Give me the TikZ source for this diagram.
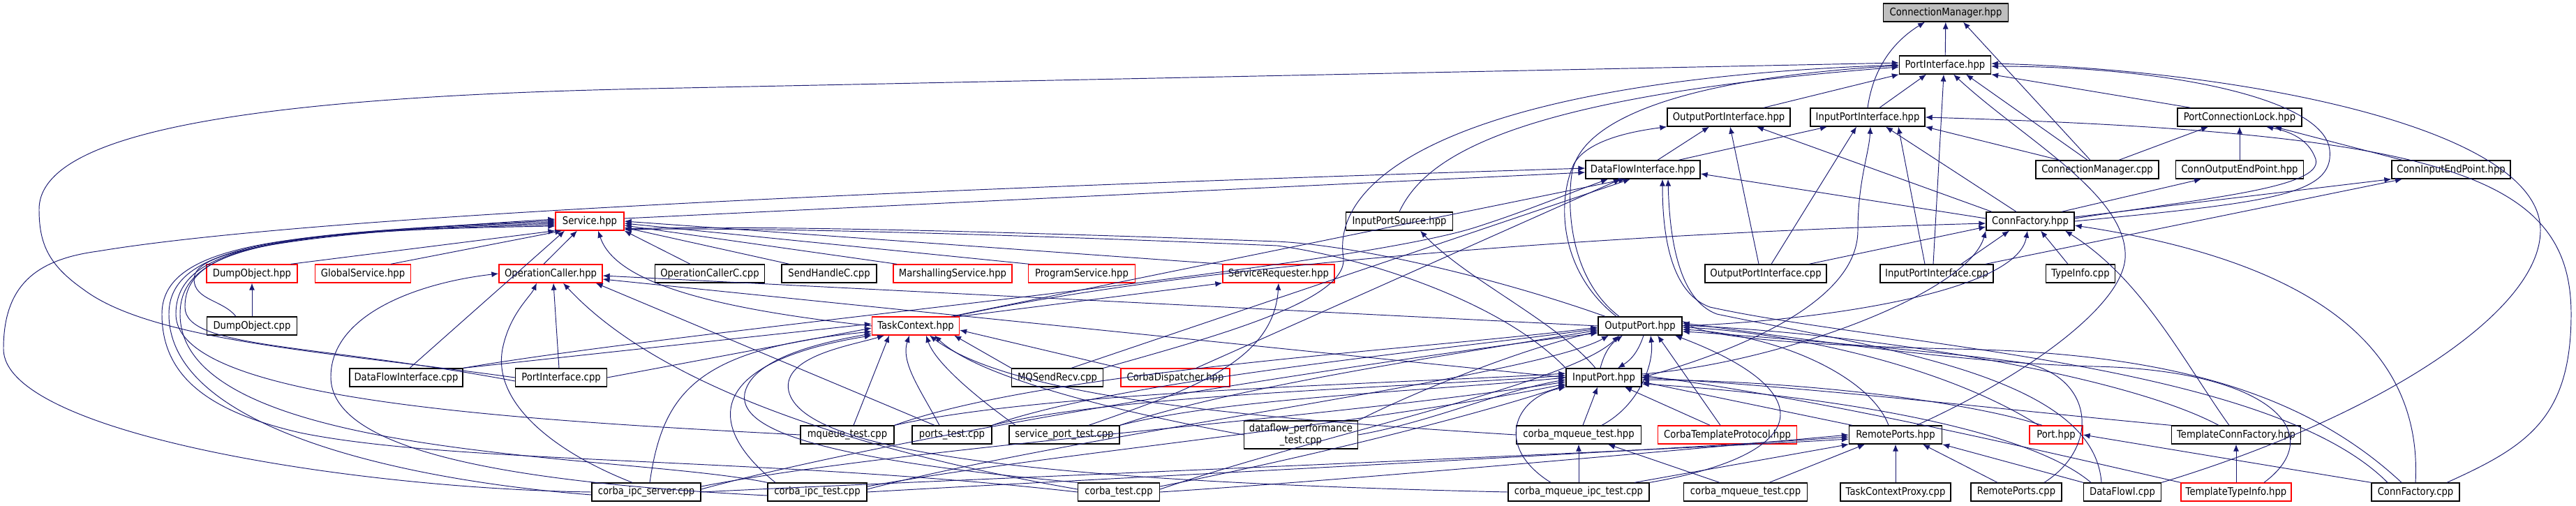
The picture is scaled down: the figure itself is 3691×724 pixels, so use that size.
\documentclass[tikz,border=0pt]{standalone}
\usepackage{fontspec}
\setmainfont{DejaVu Sans}[FakeStretch=0.88]
\usetikzlibrary{arrows.meta}
\definecolor{edgeblue}{HTML}{191970}
\definecolor{cutred}{HTML}{FF0000}
\begin{document}
\begin{tikzpicture}[x=1pt, y=1pt,
  file/.style={draw=black, fill=white, line width=1.3pt, minimum height=26, inner sep=0pt, font=\fontsize{15}{17}\selectfont},
  cut/.style={file, draw=cutred},
  root/.style={file, fill=black!25},
  inc/.style={draw=edgeblue, line width=0.95pt, -{Latex[length=10pt,width=8pt]}}]
\useasboundingbox (0,0) rectangle (3691,-724);

% rank 0-4
\node[root, minimum width=179] (CMh) at (2788,-18) {ConnectionManager.hpp};
\node[file, minimum width=131] (PIh) at (2787,-93) {PortInterface.hpp};
\node[file, minimum width=176] (OPIh) at (2477,-168) {OutputPortInterface.hpp};
\node[file, minimum width=164] (IPIh) at (2676,-168) {InputPortInterface.hpp};
\node[file, minimum width=178] (PCLh) at (3209,-168) {PortConnectionLock.hpp};
\node[file, minimum width=164] (DFIh) at (2354,-243) {DataFlowInterface.hpp};
\node[file, minimum width=176] (CMc) at (3005,-243) {ConnectionManager.cpp};
\node[file, minimum width=183] (COEP) at (3209,-243) {ConnOutputEndPoint.hpp};
\node[file, minimum width=170] (CIEP) at (3512,-243) {ConnInputEndPoint.hpp};
\node[cut, minimum width=98] (Sh) at (845,-317) {Service.hpp};
\node[file, minimum width=153] (IPSh) at (2005,-317) {InputPortSource.hpp};
\node[file, minimum width=126] (CFh) at (2909,-317) {ConnFactory.hpp};
% rank 5-7
\node[cut, minimum width=130] (DOh) at (361,-392) {DumpObject.hpp};
\node[cut, minimum width=137] (GSh) at (520,-392) {GlobalService.hpp};
\node[cut, minimum width=148] (OCh) at (789,-392) {OperationCaller.hpp};
\node[file, minimum width=157] (OCCc) at (1017,-392) {OperationCallerC.cpp};
\node[file, minimum width=136] (SHCc) at (1188,-392) {SendHandleC.cpp};
\node[cut, minimum width=170] (MSh) at (1365,-392) {MarshallingService.hpp};
\node[cut, minimum width=153] (PSh) at (1550,-392) {ProgramService.hpp};
\node[cut, minimum width=160] (SRh) at (1832,-392) {ServiceRequester.hpp};
\node[file, minimum width=174] (OPIc) at (2530,-392) {OutputPortInterface.cpp};
\node[file, minimum width=162] (IPIc) at (2775,-392) {InputPortInterface.cpp};
\node[file, minimum width=99] (TIc) at (2981,-392) {TypeInfo.cpp};
\node[file, minimum width=129] (DOc) at (361,-467) {DumpObject.cpp};
\node[cut, minimum width=125] (TCh) at (1312,-467) {TaskContext.hpp};
\node[file, minimum width=120] (OPh) at (2350,-467) {OutputPort.hpp};
\node[file, minimum width=162] (DFIc) at (582,-541) {DataFlowInterface.cpp};
\node[file, minimum width=131] (PIc) at (804,-541) {PortInterface.cpp};
\node[file, minimum width=131] (MQSR) at (1515,-541) {MQSendRecv.cpp};
\node[cut, minimum width=156] (CDh) at (1684,-541) {CorbaDispatcher.hpp};
\node[file, minimum width=108] (IPh) at (2298,-541) {InputPort.hpp};
% rank 8-9
\node[file, minimum width=134] (mqt) at (1214,-623) {mqueue\_test.cpp};
\node[file, minimum width=114] (pt) at (1364,-623) {ports\_test.cpp};
\node[file, minimum width=158] (spt) at (1525,-623) {service\_port\_test.cpp};
\node[file, minimum width=163, minimum height=40, align=center] (dpt) at (1864,-623) {dataflow\_performance\\\_test.cpp};
\node[file, minimum width=179] (cmth) at (2262,-623) {corba\_mqueue\_test.hpp};
\node[cut, minimum width=199] (CTPh) at (2475,-623) {CorbaTemplateProtocol.hpp};
\node[file, minimum width=133] (RPh) at (2716,-623) {RemotePorts.hpp};
\node[cut, minimum width=76] (Ph) at (2946,-623) {Port.hpp};
\node[file, minimum width=185] (TCFh) at (3204,-623) {TemplateConnFactory.hpp};
\node[file, minimum width=156] (cis) at (926,-705) {corba\_ipc\_server.cpp};
\node[file, minimum width=142] (cit) at (1171,-705) {corba\_ipc\_test.cpp};
\node[file, minimum width=117] (ct) at (1603,-705) {corba\_test.cpp};
\node[file, minimum width=202] (cmit) at (2262,-705) {corba\_mqueue\_ipc\_test.cpp};
\node[file, minimum width=177] (cmtc) at (2501,-705) {corba\_mqueue\_test.cpp};
\node[file, minimum width=158] (TCPc) at (2716,-705) {TaskContextProxy.cpp};
\node[file, minimum width=130] (RPc) at (2889,-705) {RemotePorts.cpp};
\node[file, minimum width=111] (DFIIc) at (3041,-705) {DataFlowI.cpp};
\node[cut, minimum width=158] (TTIh) at (3204,-705) {TemplateTypeInfo.hpp};
\node[file, minimum width=126] (CFc) at (3461,-705) {ConnFactory.cpp};

% ConnectionManager.hpp
\draw[inc] (PIh) -- (CMh);
\draw[inc] (IPIh.north) .. controls (2685,-90) and (2720,-55) .. ([xshift=-30]CMh.south);
\draw[inc] ([xshift=-10]CMc.north) -- ([xshift=25]CMh.south);

% PortInterface.hpp
\draw[inc] ([xshift=50]OPIh.north) -- (PIh.south west);
\draw[inc] ([xshift=17]IPIh.north) -- ([xshift=-27]PIh.south);
\draw[inc] ([xshift=-70]PCLh.north) -- (PIh.south east);
\draw[inc] ([xshift=-14]CMc.north) -- ([xshift=30]PIh.south);
\draw[inc] (CFh.east) .. controls (3250,-290) and (3345,-280) .. (3338,-215) .. controls (3330,-140) and (3100,-95) .. ([yshift=-2]PIh.east);
\draw[inc] (IPSh.north) .. controls (2040,-230) and (2150,-140) .. ([yshift=-3]PIh.west);
\draw[inc] (PIc.west) .. controls (480,-505) and (220,-490) .. (120,-415) .. controls (70,-380) and (56,-350) .. (56,-300) .. controls (56,-200) and (300,-140) .. (930,-127) -- ([yshift=3]PIh.west);
\draw[inc] ([xshift=-5]IPIc.north) -- ([xshift=-2]PIh.south);
\draw[inc] ([xshift=30]RPh.north) .. controls (2900,-540) and (3040,-440) .. (3045,-370) .. controls (3050,-280) and (2900,-200) .. ([xshift=12]PIh.south);
\draw[inc] (DFIIc.north east) .. controls (3400,-600) and (3640,-450) .. (3640,-330) .. controls (3640,-180) and (3200,-100) .. ([yshift=2]PIh.east);
\draw[inc] ([xshift=-30]OPh.north) .. controls (2250,-400) and (2245,-300) .. (2252,-250) .. controls (2265,-160) and (2450,-110) .. ([yshift=-1]PIh.west);
\draw[inc] (MQSR.north east) .. controls (1750,-480) and (1930,-430) .. (1925,-370) .. controls (1905,-250) and (2100,-115) .. (PIh.west);

% PortConnectionLock.hpp and end points
\draw[inc] ([xshift=31]CMc.north) -- ([xshift=-45]PCLh.south);
\draw[inc] (COEP) -- (PCLh);
\draw[inc] ([xshift=-70]CIEP.north) -- ([xshift=50]PCLh.south);
\draw[inc] ([yshift=4]CFh.east) .. controls (3150,-285) and (3330,-270) .. (3318,-228) .. controls (3310,-205) and (3290,-190) .. ([xshift=38]PCLh.south);
\draw[inc] ([xshift=45]CFh.north) -- ([xshift=-55]COEP.south);
\draw[inc] ([yshift=6]CFh.east) -- (CIEP.south west);
\draw[inc] ([xshift=70]IPIc.north) -- ([xshift=-70]CIEP.south);

% OutputPortInterface.hpp and InputPortInterface.hpp
\draw[inc] ([xshift=21]DFIh.north) -- ([xshift=-28]OPIh.south);
\draw[inc] ([xshift=51]DFIh.north) -- ([xshift=-58]IPIh.south);
\draw[inc] ([xshift=-34]OPh.north) .. controls (2235,-390) and (2230,-290) .. (2255,-235) .. controls (2275,-200) and (2340,-188) .. (OPIh.south west);
\draw[inc] ([xshift=-10]OPIc.north) -- ([xshift=2]OPIh.south);
\draw[inc] ([xshift=8]OPIc.north) -- ([xshift=-16]IPIh.south);
\draw[inc] ([xshift=-17]IPIc.north) -- ([xshift=44]IPIh.south);
\draw[inc] ([xshift=-20]CFh.north) -- ([xshift=26]IPIh.south);
\draw[inc] ([xshift=-55]CFh.north) -- ([xshift=40]OPIh.south);
\draw[inc] ([xshift=-54]CMc.north) -- (IPIh.south east);
\draw[inc] (IPh.east) .. controls (2500,-500) and (2662,-430) .. (2662,-330) .. controls (2662,-260) and (2678,-220) .. ([xshift=4]IPIh.south);
\draw[inc] ([xshift=45]CFc.north) .. controls (3620,-640) and (3684,-600) .. (3684,-450) .. controls (3684,-250) and (3500,-190) .. (IPIh.east);

% DataFlowInterface.hpp
\draw[inc] ([yshift=4]Sh.east) -- ([yshift=-4]DFIh.west);
\draw[inc] (cis.west) .. controls (500,-700) and (5,-620) .. (5,-500) .. controls (5,-410) and (50,-372) .. (140,-360) .. controls (500,-300) and (1600,-262) .. ([yshift=2]DFIh.west);
\draw[inc] (DFIc.north east) .. controls (1000,-470) and (1900,-390) .. (2110,-327) .. controls (2180,-305) and (2240,-280) .. ([xshift=-50]DFIh.south);
\draw[inc] ([xshift=-12]TCh.north east) -- ([xshift=-25]DFIh.south);
\draw[inc] ([xshift=20]MQSR.north) -- ([xshift=-18]DFIh.south);
\draw[inc] ([xshift=30]CDh.north) -- ([xshift=-32]DFIh.south);
\draw[inc] ([xshift=-30]DFIIc.north) .. controls (3000,-540) and (2700,-500) .. (2460,-450) .. controls (2405,-430) and (2392,-340) .. ([xshift=36]DFIh.south);
\draw[inc] ([xshift=-40]CFc.north) .. controls (3250,-520) and (2700,-495) .. (2450,-440) .. controls (2395,-420) and (2382,-340) .. ([xshift=28]DFIh.south);
\draw[inc] ([yshift=4]CFh.west) -- ([yshift=-6]DFIh.east);

% Service.hpp
\draw[inc] ([xshift=-10]DOh.north east) -- (Sh.south west);
\draw[inc] ([xshift=40]GSh.north) -- ([xshift=10]Sh.south west);
\draw[inc] ([xshift=-10]OCh.north) -- ([xshift=-18]Sh.south);
\draw[inc] ([xshift=-28]OCCc.north) -- (Sh.south east);
\draw[inc] ([xshift=-57]SHCc.north) -- ([yshift=-9]Sh.east);
\draw[inc] ([xshift=-80]MSh.north) -- ([yshift=-6]Sh.east);
\draw[inc] ([xshift=-75]PSh.north) -- ([yshift=-3]Sh.east);
\draw[inc] (SRh.north west) -- (Sh.east);
\draw[inc] (TCh.west) .. controls (1000,-440) and (880,-400) .. ([xshift=12]Sh.south);
\draw[inc] ([xshift=-23]DOc.north) .. controls (320,-430) and (278,-430) .. (278,-400) .. controls (278,-360) and (400,-338) .. ([yshift=3]Sh.west);
\draw[inc] ([xshift=5]DFIc.north) -- ([xshift=-36]Sh.south);
\draw[inc] ([yshift=-5]PIc.west) .. controls (450,-492) and (265,-500) .. (265,-440) .. controls (265,-352) and (400,-334) .. ([yshift=1]Sh.west);
\draw[inc] ([yshift=-4]cis.west) .. controls (600,-690) and (242,-620) .. (242,-450) .. controls (242,-352) and (400,-332) .. ([yshift=-1]Sh.west);
\draw[inc] (mqt.west) .. controls (700,-600) and (252,-570) .. (252,-450) .. controls (252,-352) and (400,-332) .. ([yshift=-3]Sh.west);
\draw[inc] (cit.north west) .. controls (900,-650) and (258,-660) .. (258,-450) .. controls (258,-352) and (400,-332) .. ([yshift=-5]Sh.west);
\draw[inc] (ct.west) .. controls (1100,-655) and (650,-665) .. (430,-620) .. controls (300,-590) and (232,-540) .. (232,-450) .. controls (232,-352) and (400,-330) .. ([yshift=-7]Sh.west);
\draw[inc] (IPh.north west) .. controls (2150,-430) and (1950,-368) .. (1830,-352) .. controls (1500,-338) and (1100,-325) .. ([yshift=-12]Sh.east);
\draw[inc] ([xshift=-50]OPh.north) .. controls (2150,-400) and (1950,-352) .. (1830,-346) .. controls (1500,-334) and (1100,-322) .. ([yshift=-11]Sh.east);

% OperationCaller.hpp
\draw[inc] ([xshift=-3]PIc.north) -- ([xshift=4]OCh.south);
\draw[inc] (OPh.west) -- ([yshift=-3]OCh.east);
\draw[inc] (IPh.west) -- ([yshift=-8]OCh.east);
\draw[inc] ([xshift=-20]cis.north) .. controls (800,-650) and (705,-580) .. (720,-500) .. controls (730,-450) and (760,-425) .. ([xshift=-20]OCh.south);
\draw[inc] ([yshift=-5]cit.west) .. controls (700,-690) and (474,-640) .. (474,-540) .. controls (474,-450) and (600,-405) .. (OCh.west);
\draw[inc] ([yshift=4]ct.west) .. controls (1250,-650) and (950,-560) .. ([xshift=18]OCh.south);
\draw[inc] ([xshift=-25]pt.north) -- ([xshift=-10]OCh.south east);

% TaskContext.hpp
\draw[inc] (DFIc.north east) -- ([yshift=3]TCh.west);
\draw[inc] (PIc.east) -- ([yshift=-3]TCh.west);
\draw[inc] ([xshift=5]cis.north) .. controls (950,-560) and (1000,-500) .. ([yshift=-8]TCh.west);
\draw[inc] ([xshift=-60]cit.north) .. controls (1010,-610) and (1010,-520) .. (TCh.south west);
\draw[inc] (ct.north west) .. controls (1200,-660) and (1050,-620) .. (1068,-560) .. controls (1080,-520) and (1150,-495) .. ([yshift=-11]TCh.west);
\draw[inc] ([xshift=9]mqt.north) -- ([xshift=-38]TCh.south);
\draw[inc] ([xshift=-18]pt.north) .. controls (1320,-560) and (1290,-520) .. ([xshift=-9]TCh.south);
\draw[inc] ([xshift=-70]spt.north) .. controls (1400,-570) and (1340,-520) .. ([xshift=15]TCh.south);
\draw[inc] (dpt.west) .. controls (1600,-590) and (1400,-540) .. ([xshift=27]TCh.south);
\draw[inc] (MQSR.north west) -- ([xshift=-8]TCh.south east);
\draw[inc] (CDh.north west) -- ([yshift=-6]TCh.east);
\draw[inc] (cmth.west) .. controls (1800,-600) and (1450,-570) .. ([xshift=20]TCh.south);
\draw[inc] (cmit.west) .. controls (1500,-690) and (1150,-650) .. (1130,-560) .. controls (1120,-510) and (1220,-495) .. ([xshift=-45]TCh.south);

% ServiceRequester.hpp, DumpObject.hpp, InputPortSource.hpp
\draw[inc] (TCh.north east) -- (SRh.south west);
\draw[inc] ([xshift=35]spt.north) .. controls (1700,-560) and (1825,-520) .. (SRh.south);
\draw[inc] (DOc) -- (DOh);
\draw[inc] ([xshift=-12]IPh.north) .. controls (2230,-460) and (2100,-400) .. ([xshift=30]IPSh.south);

% OutputPort.hpp and InputPort.hpp
\draw[inc] ([xshift=-5]IPh.north) to[bend left=20] ([xshift=-25]OPh.south);
\draw[inc] ([xshift=5]OPh.south) to[bend left=20] ([xshift=20]IPh.north);

% ConnFactory.hpp
\draw[inc] (OPh.east) .. controls (2600,-460) and (2890,-420) .. ([xshift=-4]CFh.south);
\draw[inc] ([yshift=5]IPh.east) .. controls (2550,-520) and (2820,-420) .. (CFh.south west);
\draw[inc] ([xshift=-8]TCh.north east) .. controls (1700,-380) and (2300,-335) .. ([yshift=-3]CFh.west);
\draw[inc] ([xshift=-18]TIc.north) -- ([xshift=15]CFh.south);
\draw[inc] ([xshift=-10]TCFh.north) .. controls (3130,-520) and (3070,-400) .. ([xshift=50]CFh.south);
\draw[inc] (CFc.north) .. controls (3470,-520) and (3350,-380) .. ([yshift=-6]CFh.east);
\draw[inc] ([xshift=35]IPIc.north) -- ([xshift=-30]CFh.south);
\draw[inc] ([xshift=62]OPIc.north) -- ([yshift=-8]CFh.west);

% RemotePorts.hpp
\draw[inc] (TCPc) -- (RPh);
\draw[inc] ([xshift=-27]RPc.north) -- ([xshift=39]RPh.south);
\draw[inc] (DFIIc.north west) -- (RPh.south east);
\draw[inc] ([xshift=80]cmit.north) -- (RPh.south west);
\draw[inc] ([xshift=34]cmtc.north) -- ([xshift=-44]RPh.south);
\draw[inc] (cis.east) .. controls (1300,-690) and (2300,-650) .. ([yshift=-6]RPh.west);
\draw[inc] (cit.east) .. controls (1500,-690) and (2300,-650) .. ([yshift=-3]RPh.west);
\draw[inc] (ct.east) .. controls (1900,-690) and (2350,-650) .. (RPh.west);

% corba_mqueue_test.hpp, TemplateConnFactory.hpp, Port.hpp
\draw[inc] (cmit) -- (cmth);
\draw[inc] ([xshift=-37]cmtc.north) -- ([xshift=42]cmth.south);
\draw[inc] (TTIh) -- (TCFh);
\draw[inc] (CFc.north west) -- (Ph.east);

% into OutputPort.hpp
\draw[inc] (mqt.north east) .. controls (1500,-530) and (2050,-500) .. ([yshift=-2]OPh.west);
\draw[inc] (pt.north east) .. controls (1600,-545) and (2080,-500) .. ([yshift=-4]OPh.west);
\draw[inc] (spt.north east) .. controls (1760,-555) and (2100,-505) .. ([yshift=-6]OPh.west);
\draw[inc] (dpt.north east) .. controls (2030,-560) and (2180,-500) .. ([yshift=-8]OPh.west);
\draw[inc] ([yshift=4]cis.east) .. controls (1300,-620) and (1950,-520) .. ([yshift=-10]OPh.west);
\draw[inc] ([yshift=4]cit.east) .. controls (1550,-620) and (2200,-540) .. ([xshift=-45]OPh.south);
\draw[inc] ([yshift=4]ct.east) .. controls (1900,-620) and (2250,-550) .. ([xshift=-30]OPh.south);
\draw[inc] ([xshift=33]cmth.north) .. controls (2350,-580) and (2370,-520) .. ([xshift=15]OPh.south);
\draw[inc] ([xshift=-10]CTPh.north) -- ([xshift=25]OPh.south);
\draw[inc] ([xshift=-10]RPh.north) .. controls (2680,-540) and (2550,-480) .. ([yshift=-5]OPh.east);
\draw[inc] ([xshift=-25]Ph.north) .. controls (2780,-520) and (2550,-475) .. ([yshift=-2]OPh.east);
\draw[inc] ([xshift=-25]TCFh.north) .. controls (3050,-540) and (2700,-480) .. ([yshift=1]OPh.east);
\draw[inc] ([xshift=40]TTIh.north) .. controls (3340,-620) and (3250,-530) .. (3000,-525) .. controls (2800,-520) and (2550,-480) .. ([yshift=4]OPh.east);
\draw[inc] ([xshift=-20]CFc.north) .. controls (3300,-560) and (3100,-505) .. (2800,-500) .. controls (2600,-495) and (2450,-485) .. ([yshift=7]OPh.east);
\draw[inc] ([xshift=40]RPc.north) .. controls (3010,-640) and (3000,-540) .. (2900,-520) .. controls (2800,-505) and (2500,-480) .. ([yshift=-8]OPh.east);
\draw[inc] (cmit.north east) .. controls (2600,-650) and (2610,-560) .. ([xshift=50]OPh.south);

% into InputPort.hpp
\draw[inc] (mqt.north east) .. controls (1500,-560) and (2000,-550) .. ([yshift=6]IPh.west);
\draw[inc] (pt.north east) .. controls (1600,-565) and (2020,-555) .. ([yshift=3]IPh.west);
\draw[inc] (spt.north east) .. controls (1760,-570) and (2050,-560) .. (IPh.west);
\draw[inc] (dpt.east) .. controls (2050,-605) and (2150,-560) .. ([yshift=-3]IPh.west);
\draw[inc] ([yshift=8]cis.east) .. controls (1300,-640) and (1900,-600) .. ([yshift=-6]IPh.west);
\draw[inc] ([yshift=8]cit.east) .. controls (1500,-650) and (1950,-610) .. ([yshift=-9]IPh.west);
\draw[inc] ([yshift=8]ct.east) .. controls (1850,-660) and (2100,-600) .. ([yshift=-11]IPh.west);
\draw[inc] ([xshift=6]cmth.north) -- ([xshift=-9]IPh.south);
\draw[inc] ([xshift=-25]CTPh.north) -- ([xshift=30]IPh.south);
\draw[inc] ([xshift=-62]RPh.north) -- ([yshift=-6]IPh.east);
\draw[inc] ([xshift=-20]Ph.north) .. controls (2800,-570) and (2550,-545) .. ([yshift=-3]IPh.east);
\draw[inc] (TCFh.north west) .. controls (2900,-590) and (2600,-555) .. (IPh.east);
\draw[inc] (TTIh.north west) .. controls (2900,-640) and (2600,-570) .. ([yshift=3]IPh.east);
\draw[inc] ([xshift=-45]DFIIc.north) .. controls (2900,-610) and (2600,-565) .. ([yshift=-9]IPh.east);
\draw[inc] ([xshift=-40]cmit.north) .. controls (2140,-640) and (2170,-570) .. (IPh.south west);
\end{tikzpicture}
\end{document}
